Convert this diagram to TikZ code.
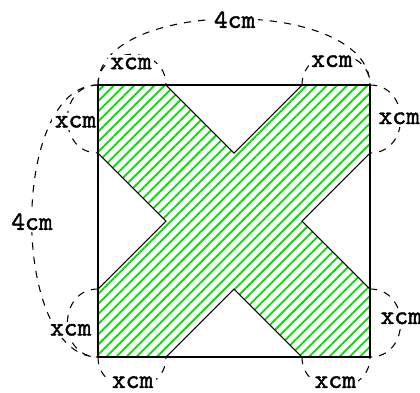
\documentclass[tikz,border=0pt]{standalone}
\usepackage{fontspec}
\usepackage{tikz}
\usetikzlibrary{patterns.meta}
\newfontfamily\dimfont{Latin Modern Mono}[FakeBold=1.5]
\definecolor{hatchgreen}{HTML}{00DD00}
\tikzset{
  border/.style={line width=0.9pt, draw=black},
  cutline/.style={line width=0.45pt, draw=black},
  hatched/.style={pattern={Lines[angle=45,distance=3pt,line width=0.75pt]}, pattern color=hatchgreen},
  dimarc/.style={dash pattern=on 3pt off 3pt, line width=0.45pt},
  dimlabel/.style={fill=white, inner sep=1pt, font=\fontsize{11}{13}\selectfont\dimfont}
}
\newcommand{\lenarc}[6]{
  \draw[dimarc] (#1) .. controls +(#3) and +(#3) .. (#2);
  \node[dimlabel] (#6) at (#4) {#5};
}

\begin{document}
\begin{tikzpicture}
\useasboundingbox (-1.441,-0.515) rectangle (4.735,5.25);
% square corners and cut points
\coordinate (sw) at (0,0);
\coordinate (se) at (4,0);
\coordinate (ne) at (4,4);
\coordinate (nw) at (0,4);
\coordinate (t1) at (1,4);
\coordinate (t2) at (3,4);
\coordinate (r1) at (4,3);
\coordinate (r2) at (4,1);
\coordinate (b1) at (1,0);
\coordinate (b2) at (3,0);
\coordinate (l1) at (0,1);
\coordinate (l2) at (0,3);
\coordinate (nn) at (2,3);
\coordinate (ee) at (3,2);
\coordinate (ss) at (2,1);
\coordinate (ww) at (1,2);
% whole side
\lenarc{nw}{ne}{0,1.3}{2.01,4.96}{4cm}{topside}
\lenarc{nw}{sw}{-1.3,0}{-0.97,1.99}{4cm}{leftside}
% cut lengths
\lenarc{nw}{t1}{0,0.6}{0.485,4.316}{xcm}{topleft}
\lenarc{t2}{ne}{0,0.6}{3.44,4.35}{xcm}{topright}
\lenarc{ne}{r1}{0.6,0}{4.43,3.51}{xcm}{righttop}
\lenarc{r2}{se}{0.6,0}{4.46,0.57}{xcm}{rightbottom}
\lenarc{sw}{b1}{0,-0.6}{0.51,-0.37}{xcm}{bottomleft}
\lenarc{b2}{se}{0,-0.6}{3.49,-0.37}{xcm}{bottomright}
\lenarc{nw}{l2}{-0.6,0}{-0.33,3.46}{xcm}{lefttop}
\lenarc{l1}{sw}{-0.6,0}{-0.40,0.40}{xcm}{leftbottom}
% the cross
\fill[white] (t1) -- (nn) -- (t2) -- (ne) -- (r1) -- (ee) -- (r2) -- (se)
  -- (b2) -- (ss) -- (b1) -- (sw) -- (l1) -- (ww) -- (l2) -- (nw) -- cycle;
\path[hatched] (t1) -- (nn) -- (t2) -- (ne) -- (r1) -- (ee) -- (r2) -- (se)
  -- (b2) -- (ss) -- (b1) -- (sw) -- (l1) -- (ww) -- (l2) -- (nw) -- cycle;
\draw[cutline] (t1) -- (nn) -- (t2) (r1) -- (ee) -- (r2)
  (b2) -- (ss) -- (b1) (l1) -- (ww) -- (l2);
\draw[border] (sw) rectangle (ne);
\end{tikzpicture}
\end{document}
